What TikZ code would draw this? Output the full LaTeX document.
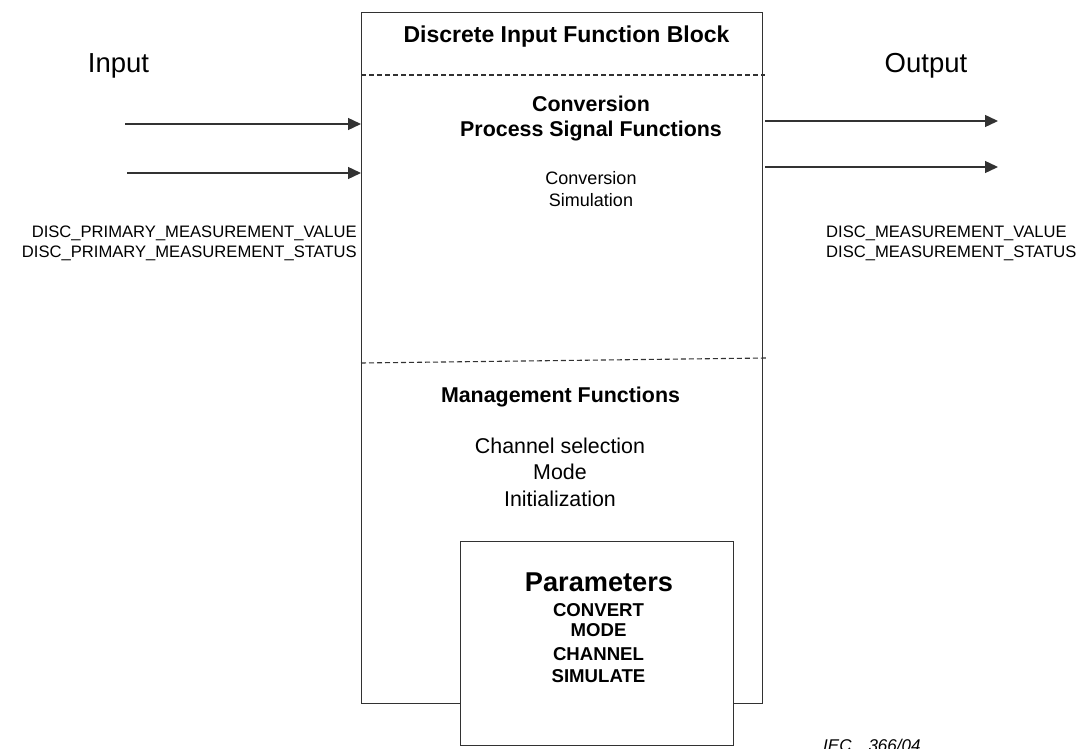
\documentclass[tikz,border=0pt]{standalone}
\usepackage{fontspec}
\setmainfont{Liberation Sans}
\usetikzlibrary{arrows.meta}
\definecolor{linec}{RGB}{50,50,50}
\newcommand\fsio{\fontsize{27.5}{30}\selectfont}
\newcommand\fstitle{\fontsize{23}{26}\selectfont\bfseries}
\newcommand\fshead{\fontsize{21.4}{24}\selectfont\bfseries}
\newcommand\fsreg{\fontsize{18}{21}\selectfont}
\newcommand\fsmid{\fontsize{21.4}{24}\selectfont}
\newcommand\fspar{\fontsize{27.2}{30}\selectfont\bfseries}
\newcommand\fsparl{\fontsize{18.6}{21}\selectfont\bfseries}
\newcommand\fssig{\fontsize{16.6}{20}\selectfont}
\newcommand\fsiec{\fontsize{17}{20}\selectfont\itshape}
\begin{document}
\begin{tikzpicture}[x=1pt,y=-1pt,
  boxst/.style={draw=linec, line width=1.4pt, inner sep=0pt, fill=white},
  sepline/.style={draw=linec, line width=1.1pt, dash pattern=on 5pt off 3pt},
  arr/.style={draw=linec, line width=1.4pt, -{Triangle[length=13pt,width=12pt]}},
  txt/.style={inner sep=0pt, anchor=base},
  txtr/.style={inner sep=0pt, anchor=base east},
  txtl/.style={inner sep=0pt, anchor=base west}]
\useasboundingbox (0,0) rectangle (1082,749);
% main block
\node[boxst, minimum width=401pt, minimum height=691pt, anchor=north west] (main) at (361,12) {};
% separators
\coordinate (d1a) at (361,75);
\coordinate (d1b) at (765,75);
\coordinate (d2a) at (361,363);
\coordinate (d2b) at (766,358);
\draw[sepline] (d1a) -- (d1b);
\draw[sepline] (d2a) -- (d2b);
% parameters box
\node[boxst, minimum width=273pt, minimum height=204pt, anchor=north west] (par) at (460,541) {};
% texts
\node[txt] (tin) at (118.5,73) {\fsio Input};
\node[txt] (tout) at (926,73) {\fsio Output};
\node[txt] (title) at (566.5,43) {\fstitle Discrete Input Function Block};
\node[txt] (conv1) at (591,112) {\fshead Conversion};
\node[txt] (conv2) at (591,137) {\fshead Process Signal Functions};
\node[txt] (cv1) at (591,185) {\fsreg Conversion};
\node[txt] (cv2) at (591,206) {\fsreg Simulation};
\node[txt] (mgmt) at (560.5,402) {\fshead Management Functions};
\node[txt] (m1) at (560,453) {\fsmid Channel selection};
\node[txt] (m2) at (560,479) {\fsmid Mode};
\node[txt] (m3) at (560,506) {\fsmid Initialization};
\node[txt] (p0) at (599,591) {\fspar Parameters};
\node[txt] (p1) at (598.5,616) {\fsparl CONVERT};
\node[txt] (p2) at (598.5,636) {\fsparl MODE};
\node[txt] (p3) at (598.5,660) {\fsparl CHANNEL};
\node[txt] (p4) at (598.5,682) {\fsparl SIMULATE};
\node[txtr] (s1) at (357,237) {\fssig DISC\_PRIMARY\_MEASUREMENT\_VALUE};
\node[txtr] (s2) at (357,257) {\fssig DISC\_PRIMARY\_MEASUREMENT\_STATUS};
\node[txtl] (o1) at (826,237) {\fssig DISC\_MEASUREMENT\_VALUE};
\node[txtl] (o2) at (826,257) {\fssig DISC\_MEASUREMENT\_STATUS};
\node[txtl] (iec) at (823,751) {\fsiec IEC\hspace{17pt}366/04};
% arrows
\coordinate (i1) at (125,124);
\coordinate (i2) at (127,173);
\coordinate (os1) at (765,121);
\coordinate (oe1) at (998,121);
\coordinate (os2) at (765,167);
\coordinate (oe2) at (998,167);
\draw[arr] (i1) -- (i1 -| main.west);
\draw[arr] (i2) -- (i2 -| main.west);
\draw[arr] (os1) -- (oe1);
\draw[arr] (os2) -- (oe2);
\end{tikzpicture}
\end{document}
